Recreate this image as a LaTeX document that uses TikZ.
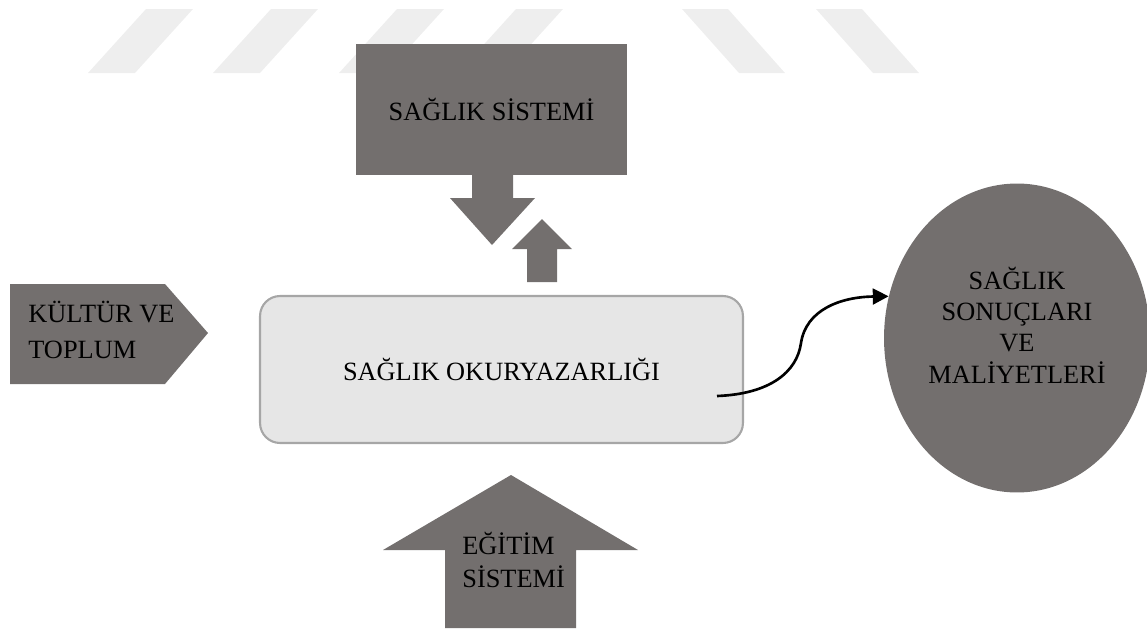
\documentclass[tikz,border=0pt]{standalone}
\usepackage{fontspec}
\setmainfont{Liberation Serif}
\usetikzlibrary{shapes.geometric, arrows.meta}
\definecolor{koyugri}{RGB}{115,111,110}
\definecolor{acikgri}{RGB}{230,230,230}
\definecolor{kenargri}{RGB}{166,166,166}
\definecolor{filigran}{RGB}{238,238,238}

\begin{document}
\begin{tikzpicture}[x=0.02cm, y=-0.02cm, font=\fontsize{15}{20}\selectfont]
    \tikzstyle{arrow} = [line width=1.5pt, -{Triangle[length=9pt,width=9pt]}]
    \tikzstyle{blok} = [fill=koyugri, draw=none]
    \tikzstyle{serit} = [fill=filigran, draw=none]
    \tikzstyle{yazi} = [inner sep=0pt, text=black]
    \tikzstyle{okbox} = [rectangle, rounded corners=0.4cm, minimum width=9.66cm, minimum height=2.94cm, fill=acikgri, draw=kenargri, line width=1.2pt, yazi]
    \useasboundingbox (0,0) rectangle (1147,633);
    % filigran
    \foreach \a in {146,271,397,516}
        \fill[serit] (\a,9) -- ++(47,0) -- ++(-58,64) -- ++(-47,0) -- cycle;
    \foreach \a in {682,816}
        \fill[serit] (\a,9) -- ++(46,0) -- ++(57,64) -- ++(-46,0) -- cycle;
    % saglik sistemi
    \node (sistem) [blok, yazi, minimum width=5.42cm, minimum height=2.62cm] at (491.5,109.5) {SAĞLIK SİSTEMİ};
    \fill[blok] (472,174) -- (472,198) -- (450,198) -- (492,245) -- (535,198) -- (513,198) -- (513,174) -- cycle;
    \fill[blok] (527,282) -- (527,249) -- (512,249) -- (542,219) -- (572,249) -- (557,249) -- (557,282) -- cycle;
    % kultur ve toplum
    \fill[blok] (10,284) -- (165,284) -- (208,333) -- (165,384) -- (10,384) -- cycle;
    \node (kultur) [yazi, anchor=west, align=left] at (28,330) {KÜLTÜR VE\\TOPLUM};
    % egitim sistemi
    \fill[blok] (511,475) -- (638,550) -- (576,550) -- (576,628) -- (445,628) -- (445,550) -- (383,550) -- cycle;
    \node (egitim) [yazi, anchor=west, align=left, font=\fontsize{15}{19}\selectfont] at (462,560) {EĞİTİM\\SİSTEMİ};
    % merkez ve sonuc
    \node (okur) [okbox] at (501.5,369.5) {SAĞLIK OKURYAZARLIĞI};
    \node (sonuc) [ellipse, blok, minimum width=5.32cm, minimum height=6.18cm] at (1017,338) {};
    \node (sonucYazi) [yazi, align=center, font=\fontsize{15}{17.8}\selectfont] at (1017,325) {SAĞLIK\\SONUÇLARI\\VE\\MALİYETLERİ};
    \coordinate (okCikis) at (717,396);
    \draw [arrow] (okCikis) .. controls (770,394) and (797,372) .. (801,343) .. controls (806,310) and (840,297) .. (sonuc.162);
\end{tikzpicture}
\end{document}
